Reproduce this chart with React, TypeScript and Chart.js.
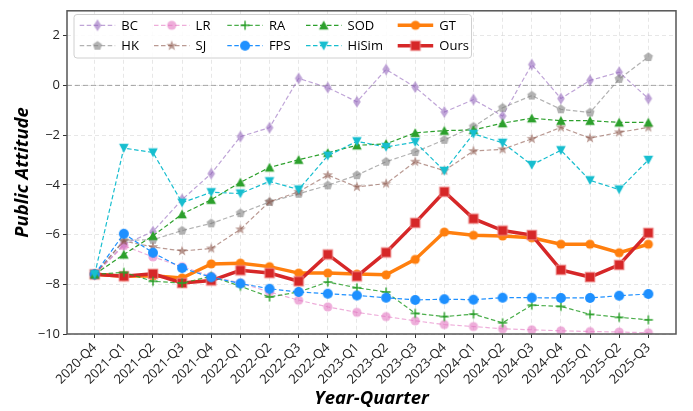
import React, { useEffect, useRef } from 'react';
import { Chart, registerables } from 'chart.js';
Chart.register(...registerables);

const quarters = ['2020-Q4', '2021-Q1', '2021-Q2', '2021-Q3', '2021-Q4', '2022-Q1', '2022-Q2', '2022-Q3', '2022-Q4', '2023-Q1', '2023-Q2', '2023-Q3', '2023-Q4', '2024-Q1', '2024-Q2', '2024-Q3', '2024-Q4', '2025-Q1', '2025-Q2', '2025-Q3'];
const yTicks = [-10, -8, -6, -4, -2, 0, 2];

const BC = [-7.6, -6.4, -5.88, -4.59, -3.55, -2.06, -1.7, 0.28, -0.09, -0.66, 0.64, -0.07, -1.07, -0.57, -1.23, 0.84, -0.53, 0.2, 0.53, -0.53];
const HK = [-7.6, -6.23, -6.21, -5.84, -5.55, -5.14, -4.69, -4.36, -4.02, -3.61, -3.07, -2.68, -2.19, -1.66, -0.9, -0.41, -0.96, -1.09, 0.26, 1.14];
const LR = [-7.6, -6.45, -6.9, -7.29, -7.68, -7.95, -8.31, -8.64, -8.91, -9.13, -9.3, -9.47, -9.62, -9.7, -9.79, -9.83, -9.87, -9.9, -9.92, -9.95];
const SJ = [-7.6, -6.26, -6.5, -6.66, -6.56, -5.79, -4.68, -4.28, -3.61, -4.08, -3.95, -3.07, -3.43, -2.64, -2.57, -2.15, -1.69, -2.12, -1.89, -1.69];
const RA = [-7.6, -7.52, -7.88, -7.95, -7.68, -8.08, -8.51, -8.31, -7.91, -8.14, -8.31, -9.17, -9.3, -9.2, -9.55, -8.84, -8.89, -9.21, -9.33, -9.43];
const FPS = [-7.6, -5.97, -6.73, -7.35, -7.72, -7.97, -8.18, -8.31, -8.38, -8.45, -8.54, -8.63, -8.6, -8.62, -8.54, -8.54, -8.55, -8.55, -8.46, -8.39];
const SOD = [-7.6, -6.8, -6.05, -5.18, -4.6, -3.9, -3.3, -2.99, -2.71, -2.41, -2.35, -1.91, -1.82, -1.79, -1.52, -1.32, -1.42, -1.42, -1.49, -1.49];
const HiSim = [-7.6, -2.52, -2.7, -4.72, -4.3, -4.35, -3.86, -4.19, -2.83, -2.25, -2.48, -2.28, -3.44, -1.95, -2.31, -3.2, -2.61, -3.82, -4.19, -3.0];
const GT = [-7.6, -7.68, -7.66, -7.75, -7.18, -7.15, -7.29, -7.55, -7.55, -7.59, -7.62, -7.0, -5.9, -6.03, -6.06, -6.13, -6.39, -6.39, -6.73, -6.39];
const Ours = [-7.6, -7.68, -7.58, -7.95, -7.85, -7.44, -7.55, -7.88, -6.8, -7.68, -6.72, -5.53, -4.28, -5.36, -5.84, -6.02, -7.42, -7.71, -7.22, -5.93];

const FONT = "'Open Sans', 'DejaVu Sans', sans-serif";

type Draw = (c: CanvasRenderingContext2D) => void;
function mk(size: number, draw: Draw): HTMLCanvasElement {
  const cv = document.createElement('canvas');
  cv.width = size; cv.height = size;
  const c = cv.getContext('2d')!;
  c.translate(size / 2, size / 2);
  draw(c);
  return cv;
}
function poly(c: CanvasRenderingContext2D, pts: number[][], fill: string, stroke?: string, lw = 1) {
  c.beginPath();
  pts.forEach((p, i) => (i ? c.lineTo(p[0], p[1]) : c.moveTo(p[0], p[1])));
  c.closePath();
  c.fillStyle = fill; c.fill();
  if (stroke) { c.strokeStyle = stroke; c.lineWidth = lw; c.stroke(); }
}
function circle(r: number, fill: string, stroke?: string) {
  return mk(14, (c) => { c.beginPath(); c.arc(0, 0, r, 0, Math.PI * 2); c.fillStyle = fill; c.fill(); if (stroke) { c.strokeStyle = stroke; c.lineWidth = 1; c.stroke(); } });
}

export default function App() {
  const ref = useRef<HTMLCanvasElement>(null);
  useEffect(() => {
    document.body.style.margin = '0';
    const purple = 'rgba(148,103,189,0.6)';
    const gray = 'rgba(127,127,127,0.6)';
    const pink = 'rgba(227,119,194,0.6)';
    const brown = 'rgba(140,86,75,0.6)';
    const green = '#2ca02c';
    const blue = '#1e90ff';
    const cyan = '#17becf';
    const orange = '#ff7f0e';
    const red = '#d62728';

    const mBC = mk(16, (c) => poly(c, [[0, -6], [3.8, 0], [0, 6], [-3.8, 0]], purple));
    const mHK = mk(14, (c) => { const pts: number[][] = []; for (let k = 0; k < 5; k++) { const a = -Math.PI / 2 + k * 2 * Math.PI / 5; pts.push([4.8 * Math.cos(a), 4.8 * Math.sin(a)]); } poly(c, pts, gray); });
    const mLR = circle(4.6, pink);
    const mSJ = mk(14, (c) => { const pts: number[][] = []; for (let k = 0; k < 10; k++) { const a = -Math.PI / 2 + k * Math.PI / 5; const r = k % 2 ? 2.3 : 5.5; pts.push([r * Math.cos(a), r * Math.sin(a)]); } poly(c, pts, brown); });
    const mRA = mk(14, (c) => { c.strokeStyle = green; c.lineWidth = 1.4; c.beginPath(); c.moveTo(-4.5, 0); c.lineTo(4.5, 0); c.moveTo(0, -4.5); c.lineTo(0, 4.5); c.stroke(); });
    const mFPS = circle(5, blue);
    const mSOD = mk(14, (c) => poly(c, [[0, -4.8], [4.8, 4.2], [-4.8, 4.2]], green));
    const mHiSim = mk(14, (c) => poly(c, [[0, 4.8], [4.8, -4.2], [-4.8, -4.2]], cyan));
    const mGT = circle(4.6, orange);
    const mOurs = mk(14, (c) => { c.fillStyle = red; c.fillRect(-4.8, -4.8, 9.6, 9.6); c.strokeStyle = 'rgba(240,140,140,0.9)'; c.lineWidth = 1; c.strokeRect(-4.8, -4.8, 9.6, 9.6); });

    const series = [
      { label: 'BC', data: BC, color: purple, marker: mBC, lw: 1.2, dashed: true, order: 8, col: 0, row: 0 },
      { label: 'HK', data: HK, color: gray, marker: mHK, lw: 1.2, dashed: true, order: 7, col: 0, row: 1 },
      { label: 'LR', data: LR, color: pink, marker: mLR, lw: 1.2, dashed: true, order: 6, col: 1, row: 0 },
      { label: 'SJ', data: SJ, color: brown, marker: mSJ, lw: 1.2, dashed: true, order: 5, col: 1, row: 1 },
      { label: 'RA', data: RA, color: 'rgba(44,160,44,0.85)', marker: mRA, lw: 1.2, dashed: true, order: 4, col: 2, row: 0 },
      { label: 'FPS', data: FPS, color: blue, marker: mFPS, lw: 1.2, dashed: true, order: 3, col: 2, row: 1 },
      { label: 'SOD', data: SOD, color: green, marker: mSOD, lw: 1.2, dashed: true, order: 2, col: 3, row: 0 },
      { label: 'HiSim', data: HiSim, color: cyan, marker: mHiSim, lw: 1.2, dashed: true, order: 1, col: 3, row: 1 },
      { label: 'GT', data: GT, color: orange, marker: mGT, lw: 3.5, dashed: false, order: 11, col: 4, row: 0 },
      { label: 'Ours', data: Ours, color: red, marker: mOurs, lw: 3.5, dashed: false, order: 10, col: 4, row: 1 },
    ];

    const dash = [4.5, 2.5];

    const overlay = {
      id: 'overlay',
      beforeDatasetsDraw(chart: any) {
        const { ctx, chartArea: a, scales } = chart;
        const y0 = scales.y.getPixelForValue(0);
        ctx.save();
        ctx.strokeStyle = 'rgba(128,128,128,0.7)';
        ctx.lineWidth = 1;
        ctx.setLineDash([5, 3]);
        ctx.beginPath(); ctx.moveTo(a.left, y0); ctx.lineTo(a.right, y0); ctx.stroke();
        ctx.restore();
      },
      afterDraw(chart: any) {
        const { ctx, chartArea: a } = chart;
        ctx.save();
        ctx.strokeStyle = '#555';
        ctx.lineWidth = 1.5;
        ctx.setLineDash([]);
        ctx.strokeRect(a.left, a.top, a.right - a.left, a.bottom - a.top);
        ctx.fillStyle = '#000';
        ctx.font = `italic bold 18.5px ${FONT}`;
        ctx.textAlign = 'center';
        ctx.textBaseline = 'middle';
        ctx.fillText('Year-Quarter', (a.left + a.right) / 2, 399);
        ctx.save();
        ctx.translate(23, (a.top + a.bottom) / 2);
        ctx.rotate(-Math.PI / 2);
        ctx.fillText('Public Attitude', 0, 0);
        ctx.restore();
        const bx = 74, by = 14.5, bw = 397.5, bh = 43.5;
        ctx.fillStyle = 'rgba(255,255,255,0.85)';
        ctx.strokeStyle = '#d0d0d0';
        ctx.lineWidth = 1;
        ctx.beginPath();
        (ctx as any).roundRect(bx, by, bw, bh, 3);
        ctx.fill(); ctx.stroke();
        const colX = [79.7, 154, 227.3, 306, 397.7];
        const rowY = [25.3, 45.7];
        const hl = 35.5;
        ctx.font = `13px ${FONT}`;
        ctx.textAlign = 'left';
        series.forEach((s) => {
          const x = colX[s.col], y = rowY[s.row];
          ctx.strokeStyle = s.color;
          ctx.lineWidth = s.lw;
          ctx.setLineDash(s.dashed ? dash : []);
          ctx.beginPath(); ctx.moveTo(x, y); ctx.lineTo(x + hl, y); ctx.stroke();
          ctx.setLineDash([]);
          ctx.drawImage(s.marker, x + hl / 2 - s.marker.width / 2, y - s.marker.height / 2);
          ctx.fillStyle = '#000';
          ctx.fillText(s.label, x + 41.6, y + 0.5);
        });
        ctx.restore();
      },
    };

    const chart = new Chart(ref.current!, {
      type: 'line',
      data: {
        datasets: series.map((s) => ({
          label: s.label,
          data: s.data.map((v, i) => ({ x: i, y: v })),
          borderColor: s.color,
          backgroundColor: s.color,
          borderWidth: s.lw,
          borderDash: s.dashed ? dash : [],
          pointStyle: s.marker as any,
          pointRadius: 5,
          pointHoverRadius: 5,
          tension: 0,
          fill: false,
          order: s.order,
        })),
      },
      options: {
        responsive: false,
        animation: false,
        devicePixelRatio: 1,
        events: [],
        layout: { padding: { left: 0, top: 4.5, right: 17, bottom: 0 } },
        font: { family: FONT },
        plugins: { legend: { display: false }, tooltip: { enabled: false } },
        scales: {
          x: {
            type: 'linear',
            min: -0.95,
            max: 19.95,
            afterBuildTicks: (scale: any) => { scale.ticks = quarters.map((_, i) => ({ value: i })); },
            afterFit: (scale: any) => { scale.height = 77; },
            ticks: {
              autoSkip: false,
              minRotation: 45,
              maxRotation: 45,
              padding: 2,
              color: '#222',
              font: { family: FONT, size: 13 },
              callback: (v: any) => quarters[Math.round(Number(v))] ?? '',
            },
            grid: {
              color: 'rgba(200,200,200,0.55)',
              lineWidth: 0.8,
              tickColor: '#333',
              tickLength: 4,
              tickWidth: 1,
              tickBorderDash: [],
            } as any,
            border: { display: false, dash: [4, 3] },
          },
          y: {
            min: -10,
            max: 3,
            afterBuildTicks: (scale: any) => { scale.ticks = yTicks.map((v) => ({ value: v })); },
            afterFit: (scale: any) => { scale.width = 67; },
            ticks: {
              padding: 3,
              color: '#222',
              font: { family: FONT, size: 13 },
              callback: (v: any) => (Number(v) < 0 ? '\u2212' + Math.abs(Number(v)) : String(v)),
            },
            grid: {
              color: 'rgba(200,200,200,0.55)',
              lineWidth: 0.8,
              tickColor: '#333',
              tickLength: 4,
              tickWidth: 1,
              tickBorderDash: [],
            } as any,
            border: { display: false, dash: [4, 3] },
          },
        },
      } as any,
      plugins: [overlay],
    });
    return () => chart.destroy();
  }, []);
  return <canvas ref={ref} width={693} height={411} style={{ display: 'block', width: 693, height: 411 }} />;
}
